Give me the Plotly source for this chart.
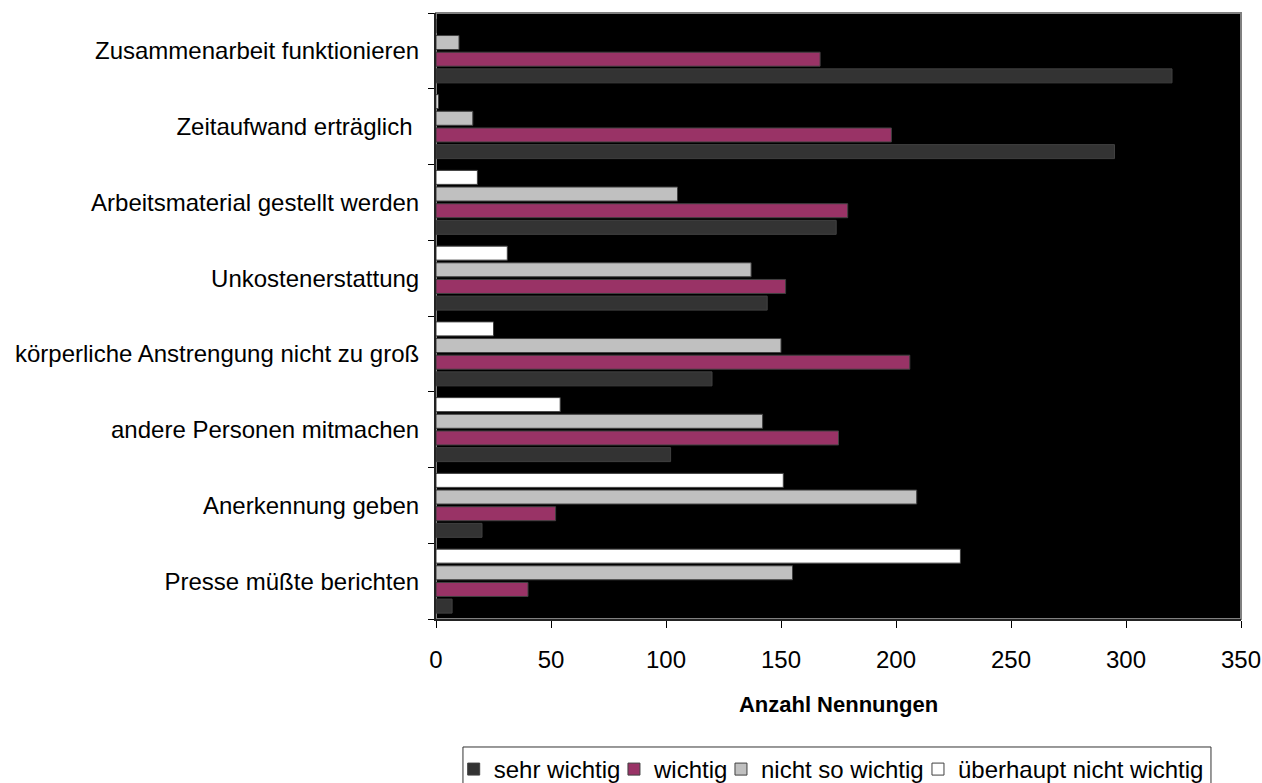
import plotly.graph_objects as go

categories = [
    "Zusammenarbeit funktionieren",
    "Zeitaufwand erträglich ",
    "Arbeitsmaterial gestellt werden",
    "Unkostenerstattung",
    "körperliche Anstrengung nicht zu groß",
    "andere Personen mitmachen",
    "Anerkennung geben",
    "Presse müßte berichten",
]
sehr_wichtig = [320, 295, 174, 144, 120, 102, 20, 7]
wichtig = [167, 198, 179, 152, 206, 175, 52, 40]
nicht_so_wichtig = [10, 16, 105, 137, 150, 142, 209, 155]
ueberhaupt_nicht = [0, 1, 18, 31, 25, 54, 151, 228]

series_names = ["sehr wichtig", "wichtig", "nicht so wichtig", "überhaupt nicht wichtig"]
series_values = [sehr_wichtig, wichtig, nicht_so_wichtig, ueberhaupt_nicht]
series_colors = ["#333333", "#993366", "#C0C0C0", "#FFFFFF"]

# legend entry positions (container fraction) so that entries sit tightly like the original
legend_ids = ["legend", "legend2", "legend3", "legend4"]
legend_x = [0.3595, 0.4865, 0.5713, 0.7274]

FONT = "Liberation Sans, Arial, sans-serif"

fig = go.Figure()
for name, vals, color, lid in zip(series_names, series_values, series_colors, legend_ids):
    fig.add_trace(go.Bar(
        y=categories, x=vals, name=name, orientation="h", legend=lid,
        marker=dict(color=color, line=dict(color="#404040", width=1)),
    ))

legend_common = dict(
    orientation="h", xref="container", yref="container",
    xanchor="left", y=0.046, yanchor="top",
    borderwidth=0, bgcolor="rgba(0,0,0,0)",
    font=dict(size=24), itemwidth=30,
)

fig.update_layout(
    width=1262, height=783, autosize=False,
    barmode="group", bargap=0.12, bargroupgap=0.16,
    paper_bgcolor="white", plot_bgcolor="black",
    margin=dict(l=436, r=21, t=13, b=164, autoexpand=False),
    font=dict(family=FONT, size=24, color="black"),
    showlegend=True,
    xaxis=dict(
        range=[0, 350], dtick=50, showgrid=False, zeroline=False,
        showline=True, linecolor="#222222", linewidth=2, automargin=False,
        ticks="outside", ticklen=7, tickcolor="black", tickwidth=1,
        ticklabelstandoff=11, tickfont=dict(size=24),
        title=dict(text="<b>Anzahl Nennungen</b>", font=dict(size=22), standoff=25),
    ),
    yaxis=dict(
        type="category", categoryorder="array", categoryarray=categories[::-1],
        showgrid=False, zeroline=False, automargin=False,
        showline=True, linecolor="#222222", linewidth=2,
        ticks="outside", tickson="boundaries", ticklen=6, tickcolor="black",
        tickwidth=1, ticklabelstandoff=10, tickfont=dict(size=24),
    ),
)
for lid, lx in zip(legend_ids, legend_x):
    fig.update_layout({lid: dict(legend_common, x=lx)})

# plot-area border (grey) and legend frame
fig.add_shape(
    type="rect", xref="x domain", yref="y domain", x0=0, x1=1, y0=0, y1=1,
    line=dict(color="#808080", width=2), layer="below",
)
fig.add_shape(
    type="rect", xref="paper", yref="paper", x0=0.0335, x1=0.9627, y0=-0.2112, y1=-0.32,
    line=dict(color="#333333", width=1), fillcolor="white", layer="below",
)

fig.write_html("out.html", config={"displayModeBar": False},
               post_script="document.body.style.margin='0';")
